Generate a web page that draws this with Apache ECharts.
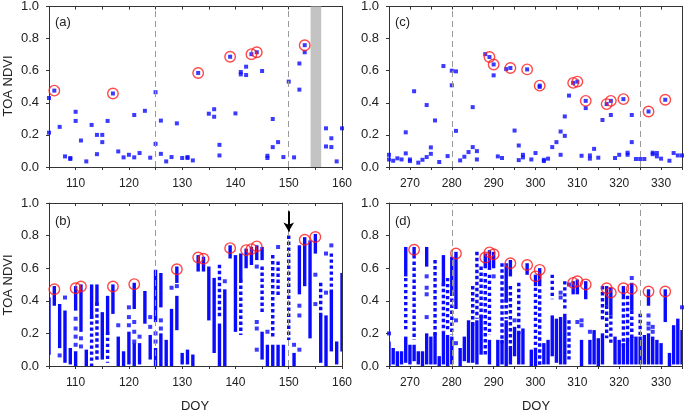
<!DOCTYPE html>
<html><head><meta charset="utf-8">
<script src="https://cdn.jsdelivr.net/npm/echarts@6/dist/echarts.min.js"></script>
<style>html,body{margin:0;padding:0;background:#fff}#c{width:685px;height:411px}</style>
</head><body><div id="c"></div>
<script>
// ---------- DATA ----------
const xRangeLeft = [105, 160];
const xRangeRight = [265, 335];
const yTicks = [0, 0.2, 0.4, 0.6, 0.8, 1.0];
const dashedLeft = [125, 150];
const dashedRight = [280, 325];
const grayBand = [154.1, 156.1];
const arrowDay = 150;
const arrowFromTo = [0.95, 0.825];

// (a) TOA NDVI, single observations
const aPts = [[105,0.43],[105,0.214],[107,0.25],[108,0.066],[109,0.05],[109,0.056],[110,0.344],[110,0.287],
[111,0.165],[112,0.035],[113,0.262],[114,0.2],[114,0.08],[115,0.2],[115,0.155],[116,0.287],[118,0.097],
[119,0.06],[120,0.076],[121,0.324],[121,0.06],[122,0.087],[123,0.35],[124,0.058],[125,0.466],[125,0.144],
[126,0.289],[126,0.082],[127,0.035],[128,0.062],[129,0.272],[130,0.056],[131,0.056],[131,0.062],[132,0.041],
[135,0.332],[136,0.36],[136,0.313],[137,0.138],[137,0.072],[140,0.334],[141,0.592],[141,0.577],[142,0.625],
[142,0.573],[145,0.598],[146,0.07],[146,0.056],[147,0.299],[147,0.124],[148,0.155],[149,0.062],[150,0.532],
[151,0.06],[152,0.645],[152,0.482],[153,0.715],[157,0.241],[157,0.128],[158,0.179],[158,0.124],[159,0.035],[160,0.241]];
const aCircles = [[106,0.476],[117,0.458],[133,0.586],[139,0.687],[143,0.703],[144,0.715],[153,0.759]];

// (c)
const cPts = [[265,0.076],[265,0.047],[266,0.039],[267,0.054],[268,0.047],[269,0.216],[269,0.085],[270,0.047],[270,0.037],
[271,0.472],[272,0.027],[273,0.045],[274,0.386],[274,0.062],[275,0.122],[275,0.082],[276,0.29],[277,0.031],[278,0.629],
[279,0.068],[280,0.6],[280,0.509],[281,0.596],[281,0.225],[282,0.041],[283,0.064],[284,0.093],[285,0.373],[285,0.124],
[286,0.099],[286,0.047],[288,0.703],[290,0.571],[291,0.066],[292,0.056],[293,0.61],[295,0.227],[296,0.134],[296,0.043],
[297,0.076],[297,0.06],[299,0.047],[300,0.087],[301,0.499],[302,0.045],[302,0.037],[303,0.052],[304,0.124],[305,0.155],
[306,0.221],[306,0.076],[307,0.194],[307,0.315],[308,0.445],[311,0.07],[312,0.367],[313,0.072],[313,0.052],[314,0.113],
[315,0.058],[316,0.293],[318,0.324],[319,0.056],[320,0.076],[322,0.089],[322,0.076],[323,0.324],[323,0.155],[324,0.05],
[325,0.05],[326,0.05],[328,0.08],[328,0.089],[329,0.087],[329,0.066],[330,0.052],[332,0.039],[333,0.087],[334,0.072],[335,0.072]];
const cCircles = [[289,0.685],[290,0.639],[294,0.617],[298,0.608],[301,0.507],[309,0.524],[310,0.532],[312,0.412],
[317,0.392],[318,0.412],[321,0.423],[327,0.346],[331,0.419]];

// (b) all-pixel TOA NDVI: dense runs [day, low, high], sparse runs [day, low, high], single dots [day, v]
const bDense = [[105,0.08,0.41],[106,0.38,0.48],[107,0.12,0.37],[108,0.03,0.33],[109,0.02,0.1],[110,0.35,0.48],[110,0,0.08],
[111,0.22,0.49],[112,0,0.09],[113,0.3,0.49],[114,0.38,0.49],[115,0.05,0.32],[116,0.2,0.42],[117,0.33,0.49],[118,0,0.17],
[119,0,0.08],[120,0.02,0.2],[121,0.36,0.5],[121,0,0.13],[122,0.02,0.13],[123,0.27,0.45],[124,0.05,0.18],[125,0.28,0.58],
[125,0,0.1],[126,0.37,0.56],[126,0,0.19],[127,0,0.15],[128,0,0.34],[129,0.52,0.6],[129,0.23,0.42],[130,0.02,0.07],
[131,0.02,0.09],[132,0.01,0.06],[133,0.59,0.67],[134,0.59,0.66],[135,0.29,0.6],[136,0.09,0.53],[137,0,0.25],[138,0,0.46],
[139,0.67,0.73],[140,0.22,0.67],[141,0.53,0.68],[142,0.61,0.71],[143,0.63,0.72],[144,0.66,0.73],[145,0.66,0.72],[145,0.05,0.2],
[146,0,0.12],[147,0,0.12],[148,0,0.12],[149,0,0.12],[151,0,0.07],[152,0.45,0.73],[153,0.5,0.78],[154,0.18,0.76],[155,0.7,0.8],
[156,0.03,0.3],[157,0,0.3],[158,0.1,0.45],[159,0.02,0.14],[160,0.1,0.56]];
const bSparse = [[113,0,0.3],[114,0.04,0.38],[116,0.03,0.2],[137,0.3,0.61],[141,0.2,0.52],[145,0.33,0.6],[147,0.18,0.67],
[148,0.44,0.63],[150,0.17,0.79],[156,0.3,0.5],[158,0.45,0.68]];
const bDots = [[107,0.065],[108,0.42],[110,0.29],[110,0.23],[110,0.18],[110,0.13],[111,0.17],[111,0.12],[118,0.25],
[120,0.36],[120,0.3],[120,0.25],[121,0.27],[121,0.21],[121,0.15],[122,0.18],[124,0.3],[124,0.24],[125,0.2],[125,0.15],
[126,0.28],[126,0.23],[128,0.48],[129,0.49],[138,0.52],[144,0.61],[144,0.27],[144,0.23],[144,0.1],[146,0.21],[148,0.73],
[151,0.13],[152,0.37],[152,0.31],[152,0.1],[155,0.56],[155,0.38],[157,0.69],[157,0.45],[158,0.74]];
const bCircles = [[106,0.471],[110,0.477],[111,0.488],[117,0.488],[121,0.502],[129,0.594],[133,0.666],[134,0.658],
[139,0.723],[142,0.711],[143,0.717],[144,0.734],[153,0.775],[155,0.791]];

// (d)
const dDense = [[265,0,0.14],[266,0.02,0.1],[267,0.01,0.08],[268,0.02,0.08],[269,0.56,0.72],[269,0.03,0.17],[270,0.02,0.12],
[271,0.67,0.72],[271,0.04,0.12],[272,0.02,0.08],[273,0,0.08],[274,0.62,0.72],[274,0.02,0.19],[275,0.02,0.17],[276,0.02,0.19],
[277,0,0.05],[278,0.5,0.67],[278,0.02,0.2],[279,0,0.18],[280,0.44,0.66],[280,0.02,0.17],[281,0.36,0.69],[282,0,0.1],
[283,0.04,0.17],[284,0.03,0.27],[285,0.03,0.25],[286,0.02,0.27],[287,0.08,0.3],[288,0.61,0.68],[289,0.6,0.7],[289,0.02,0.15],
[290,0.61,0.69],[291,0,0.15],[292,0.02,0.15],[293,0.4,0.62],[293,0,0.27],[294,0.56,0.64],[294,0.02,0.1],[295,0.07,0.23],
[296,0.02,0.2],[297,0.02,0.22],[298,0.57,0.62],[299,0.01,0.09],[300,0.5,0.55],[300,0,0.1],[301,0.5,0.59],[302,0.02,0.13],
[303,0.02,0.15],[304,0.07,0.3],[305,0.03,0.28],[306,0.02,0.29],[307,0.02,0.31],[309,0.45,0.51],[310,0.45,0.52],[311,0,0.15],
[312,0.42,0.51],[313,0.02,0.15],[314,0.02,0.21],[315,0,0.16],[316,0.02,0.19],[317,0.38,0.48],[318,0.32,0.47],[319,0.02,0.17],
[320,0.02,0.15],[321,0.42,0.48],[321,0.02,0.13],[322,0.02,0.15],[323,0.35,0.5],[323,0.02,0.17],[324,0.02,0.17],[325,0.02,0.17],
[326,0.02,0.18],[327,0.38,0.46],[327,0.02,0.19],[328,0.02,0.17],[329,0.02,0.15],[330,0.02,0.13],[331,0.28,0.46],[332,0,0.07],
[333,0.02,0.24],[334,0.02,0.28],[335,0.02,0.21]];
const dSparse = [[269,0.22,0.53],[271,0.17,0.63],[276,0.2,0.64],[278,0.22,0.5],[279,0.22,0.53],[280,0.2,0.44],[285,0.25,0.48],
[286,0.3,0.69],[287,0.3,0.6],[288,0.07,0.56],[289,0.2,0.55],[292,0.15,0.62],[293,0.3,0.4],[294,0.12,0.48],[296,0.2,0.5],
[300,0.12,0.47],[301,0,0.46],[304,0.42,0.55],[307,0.35,0.51],[308,0.05,0.27],[316,0.28,0.48],[317,0.18,0.36],[318,0.15,0.3],
[321,0.13,0.38],[322,0.15,0.42],[323,0.17,0.33],[325,0.2,0.31]];
const dDots = [[265,0.2],[274,0.55],[274,0.48],[274,0.44],[274,0.3],[281,0.28],[281,0.14],[290,0.55],[295,0.28],
[306,0.45],[306,0.42],[308,0.5],[310,0.27],[311,0.28],[311,0.25],[313,0.21],[323,0.54],[327,0.31],[327,0.26],[327,0.23],
[328,0.24],[328,0.21],[335,0.36]];
const dCircles = [[271,0.713],[281,0.69],[288,0.666],[289,0.697],[290,0.686],[294,0.63],[298,0.62],[300,0.55],[301,0.59],
[309,0.51],[310,0.52],[312,0.5],[317,0.477],[318,0.45],[321,0.477],[323,0.473],[327,0.457],[331,0.457]];

// ---------- CHART ----------
const FONT = 'Liberation Sans, Arial, sans-serif';
const BLUE = '#0a0aff', RED = '#ff1a1a', AX = '#333';
const grids = [
  {left:49, top:5, width:293, height:162},
  {left:49, top:203, width:293, height:163},
  {left:389, top:5, width:293, height:162},
  {left:389, top:203, width:293, height:163}
];
const ranges = [xRangeLeft, xRangeLeft, xRangeRight, xRangeRight];
const xAxis = [], yAxis = [];
grids.forEach((g, i) => {
  const r = ranges[i];
  xAxis.push({gridIndex:i, type:'value', min:r[0], max:r[1], interval:5, position:'bottom',
    axisLine:{show:true, onZero:false, lineStyle:{color:AX, width:1}},
    axisTick:{show:true, inside:false, length:3, lineStyle:{color:AX}},
    axisLabel:{show: true, margin:11, fontSize:12, color:'#222', fontFamily:FONT, formatter: v => (v % 10 === 0 ? String(v) : ''), showMinLabel:true, showMaxLabel:true},
    splitLine:{show:false}});
  xAxis.push({gridIndex:i, type:'value', min:r[0], max:r[1], interval:5, position:'top',
    axisLine:{show:true, onZero:false, lineStyle:{color:AX, width:1}},
    axisTick:{show:true, inside:true, length:3, lineStyle:{color:AX}},
    axisLabel:{show:false}, splitLine:{show:false}});
  yAxis.push({gridIndex:i, type:'value', min:0, max:1, interval:0.2, position:'left',
    axisLine:{show:true, onZero:false, lineStyle:{color:AX, width:1}},
    axisTick:{show:true, inside:false, length:3, lineStyle:{color:AX}},
    axisLabel:{margin:10, fontSize:13, color:'#222', fontFamily:FONT, formatter: v => v.toFixed(1)},
    splitLine:{show:false}});
  yAxis.push({gridIndex:i, type:'value', min:0, max:1, interval:0.2, position:'right',
    axisLine:{show:true, onZero:false, lineStyle:{color:AX, width:1}},
    axisTick:{show:false}, axisLabel:{show:false}, splitLine:{show:false}});
});

function segDense(params, api) {
  const x = api.value(0), lo = api.value(1), hi = api.value(2);
  const p1 = api.coord([x, hi]), p2 = api.coord([x, lo]);
  const w = 3.4;
  return {type:'rect', shape:{x:p1[0]-w/2, y:p1[1]-w/2, width:w, height:(p2[1]-p1[1])+w}, style:{fill:BLUE}};
}
function segSparse(params, api) {
  const x = api.value(0), lo = api.value(1), hi = api.value(2);
  const p1 = api.coord([x, hi]), p2 = api.coord([x, lo]);
  return {type:'line', shape:{x1:p1[0], y1:p1[1]-1.7, x2:p2[0], y2:p2[1]+1.7},
    style:{stroke:BLUE, lineWidth:3.4, lineDash:[3.4,2.6], fill:null}};
}
function vlines(days) {
  return {silent:true, symbol:'none', label:{show:false},
    lineStyle:{type:[6,4], color:'#9a9a9a', width:1}, data: days.map(d => ({xAxis:d}))};
}
function ptsSeries(i, data, extra) {
  return Object.assign({type:'scatter', xAxisIndex:2*i, yAxisIndex:2*i, data:data, symbol:'rect', symbolSize:4,
    itemStyle:{color:BLUE}, silent:true, z:3, clip:true}, extra || {});
}
function circSeries(i, data) {
  return {type:'scatter', xAxisIndex:2*i, yAxisIndex:2*i, data:data, symbol:'circle', symbolSize:10.5,
    itemStyle:{color:'rgba(0,0,0,0)', borderColor:RED, borderWidth:1.4}, silent:true, z:5};
}
function customSeries(i, data, fn) {
  return {type:'custom', xAxisIndex:2*i, yAxisIndex:2*i, data:data, renderItem:fn, silent:true, z:3, clip:true,
    encode:{x:0, y:[1,2]}};
}

const series = [
  // (a)
  ptsSeries(0, aPts, {markLine: vlines(dashedLeft),
    markArea:{silent:true, itemStyle:{color:'#c3c3c3'}, data:[[{xAxis:grayBand[0]},{xAxis:grayBand[1]}]]}}),
  ptsSeries(0, aCircles),
  circSeries(0, aCircles),
  // (b)
  Object.assign(customSeries(1, bDense, segDense), {markLine: vlines(dashedLeft)}),
  customSeries(1, bSparse, segSparse),
  ptsSeries(1, bDots, {markLine:{silent:true, symbol:['none','arrow'], symbolSize:[8,9], label:{show:false},
    lineStyle:{type:'solid', color:'#000', width:2},
    data:[[{coord:[arrowDay, arrowFromTo[0]]},{coord:[arrowDay, arrowFromTo[1]]}]]}}),
  circSeries(1, bCircles),
  // (c)
  ptsSeries(2, cPts, {markLine: vlines(dashedRight)}),
  ptsSeries(2, cCircles),
  circSeries(2, cCircles),
  // (d)
  Object.assign(customSeries(3, dDense, segDense), {markLine: vlines(dashedRight)}),
  customSeries(3, dSparse, segSparse),
  ptsSeries(3, dDots),
  circSeries(3, dCircles)
];

function txt(x, y, s, opts) {
  return Object.assign({type:'text', x:x, y:y, style:{text:s, font:'13px ' + FONT, fill:'#222', textAlign:'left', textVerticalAlign:'middle'}}, opts || {});
}
const graphic = [
  txt(55, 22, '(a)'), txt(55, 221, '(b)'), txt(395, 22, '(c)'), txt(395, 221, '(d)'),
  {type:'text', x:8, y:86, rotation:Math.PI/2, style:{text:'TOA NDVI', font:'13px ' + FONT, fill:'#222', textAlign:'center', textVerticalAlign:'middle'}},
  {type:'text', x:8, y:285, rotation:Math.PI/2, style:{text:'TOA NDVI', font:'13px ' + FONT, fill:'#222', textAlign:'center', textVerticalAlign:'middle'}},
  {type:'text', x:195, y:406, style:{text:'DOY', font:'13px ' + FONT, fill:'#222', textAlign:'center', textVerticalAlign:'middle'}},
  {type:'text', x:536, y:406, style:{text:'DOY', font:'13px ' + FONT, fill:'#222', textAlign:'center', textVerticalAlign:'middle'}}
];

const chart = echarts.init(document.getElementById('c'), null, {renderer:'canvas'});
chart.setOption({animation:false, backgroundColor:'#fff', grid:grids, xAxis:xAxis, yAxis:yAxis, series:series, graphic:graphic});
</script>
</body></html>
